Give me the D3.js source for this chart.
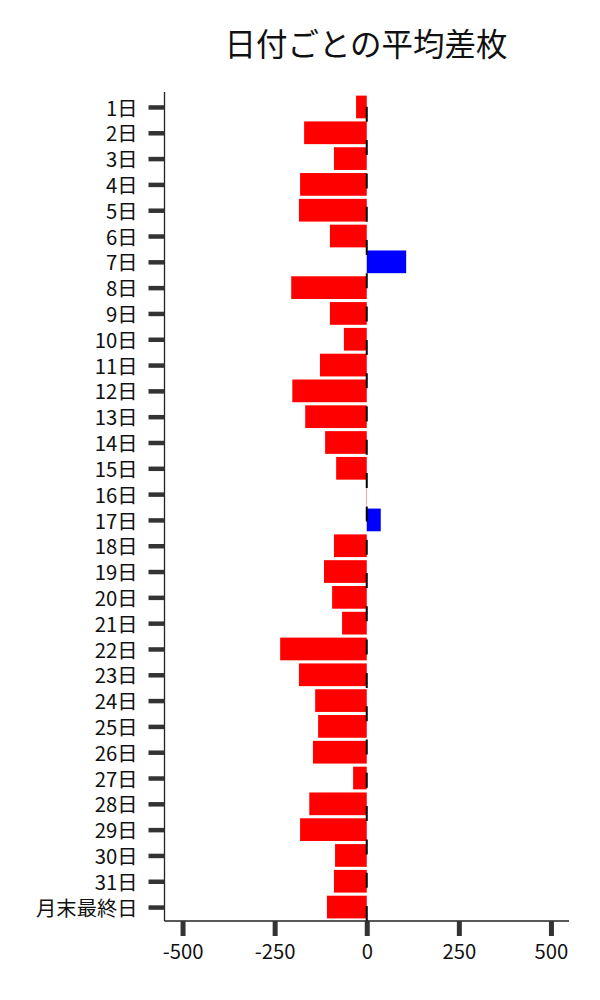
<!DOCTYPE html>
<html>
<head>
<meta charset="utf-8">
<script src="https://cdn.jsdelivr.net/npm/d3@7"></script>
<style>
  html, body { margin: 0; padding: 0; background: #fff; }
  svg { display: block; font-family: "Noto Sans CJK JP", "Noto Sans", sans-serif; }
</style>
</head>
<body>
<svg id="chart" width="600" height="1000"></svg>
<script>
const title = "日付ごとの平均差枚";
const days = ["1日","2日","3日","4日","5日","6日","7日","8日","9日","10日",
  "11日","12日","13日","14日","15日","16日","17日","18日","19日","20日",
  "21日","22日","23日","24日","25日","26日","27日","28日","29日","30日","31日","月末最終日"];
const values = [-29,-170,-89,-181,-184,-100,107,-205,-100,-62,
  -127,-202,-167,-113,-83,-1,38,-89,-116,-94,
  -67,-235,-184,-140,-132,-146,-37,-156,-181,-86,-89,-108];
const xTicks = [-500,-250,0,250,500];

(function () {
const svg = d3.select("#chart");
const pL = 164.5, pR = 569, pT = 92, pB = 921;

const x = d3.scaleLinear().domain([-549, 549]).range([pL, pR]);
const yIdx = d3.scaleLinear().domain([-0.58, 31.54]).range([pT, pB]);
const step = yIdx(1) - yIdx(0);
const barH = step * 0.88;

// bars
svg.append("g").selectAll("rect").data(values).join("rect")
  .attr("x", d => Math.min(x(0), x(d)))
  .attr("width", d => Math.abs(x(d) - x(0)))
  .attr("y", (d, i) => yIdx(i) - barH / 2)
  .attr("height", barH)
  .attr("fill", d => d >= 0 ? "#0000ff" : "#ff0000");

// dashed zero line
svg.append("line")
  .attr("x1", x(0)).attr("x2", x(0))
  .attr("y1", pB).attr("y2", pT)
  .attr("stroke", "#000").attr("stroke-width", 2)
  .attr("stroke-dasharray", "15 18.3");

// y axis
const yPt = d3.scalePoint().domain(days).range([yIdx(0), yIdx(days.length - 1)]);
const gy = svg.append("g").attr("transform", `translate(${pL},0)`)
  .call(d3.axisLeft(yPt).tickSize(16).tickPadding(11));
gy.select(".domain").attr("d", `M0,${pT}V${pB}`).attr("stroke", "#222").attr("stroke-width", 1.3);
gy.selectAll(".tick line").attr("stroke", "#333").attr("stroke-width", 4.5);
gy.selectAll(".tick text").attr("font-size", 20.3).attr("fill", "#111")
  .attr("font-family", "'Noto Sans CJK JP', sans-serif").attr("dy", "0.4em");

// x axis
const gx = svg.append("g").attr("transform", `translate(0,${pB})`)
  .call(d3.axisBottom(x).tickValues(xTicks).tickFormat(d => String(d)).tickSize(15).tickPadding(9));
gx.select(".domain").attr("d", `M${pL},0H${pR}`).attr("stroke", "#222").attr("stroke-width", 1.3);
gx.selectAll(".tick line").attr("stroke", "#333").attr("stroke-width", 5);
gx.selectAll(".tick text").attr("font-size", 20.3).attr("fill", "#111")
  .attr("font-family", "'Noto Sans CJK JP', sans-serif");

// title
svg.append("text")
  .attr("x", 366).attr("y", 56)
  .attr("text-anchor", "middle")
  .attr("font-size", 31.5)
  .attr("fill", "#111")
  .attr("font-family", "'Noto Sans CJK JP', sans-serif")
  .text(title);
})();
</script>
</body>
</html>
